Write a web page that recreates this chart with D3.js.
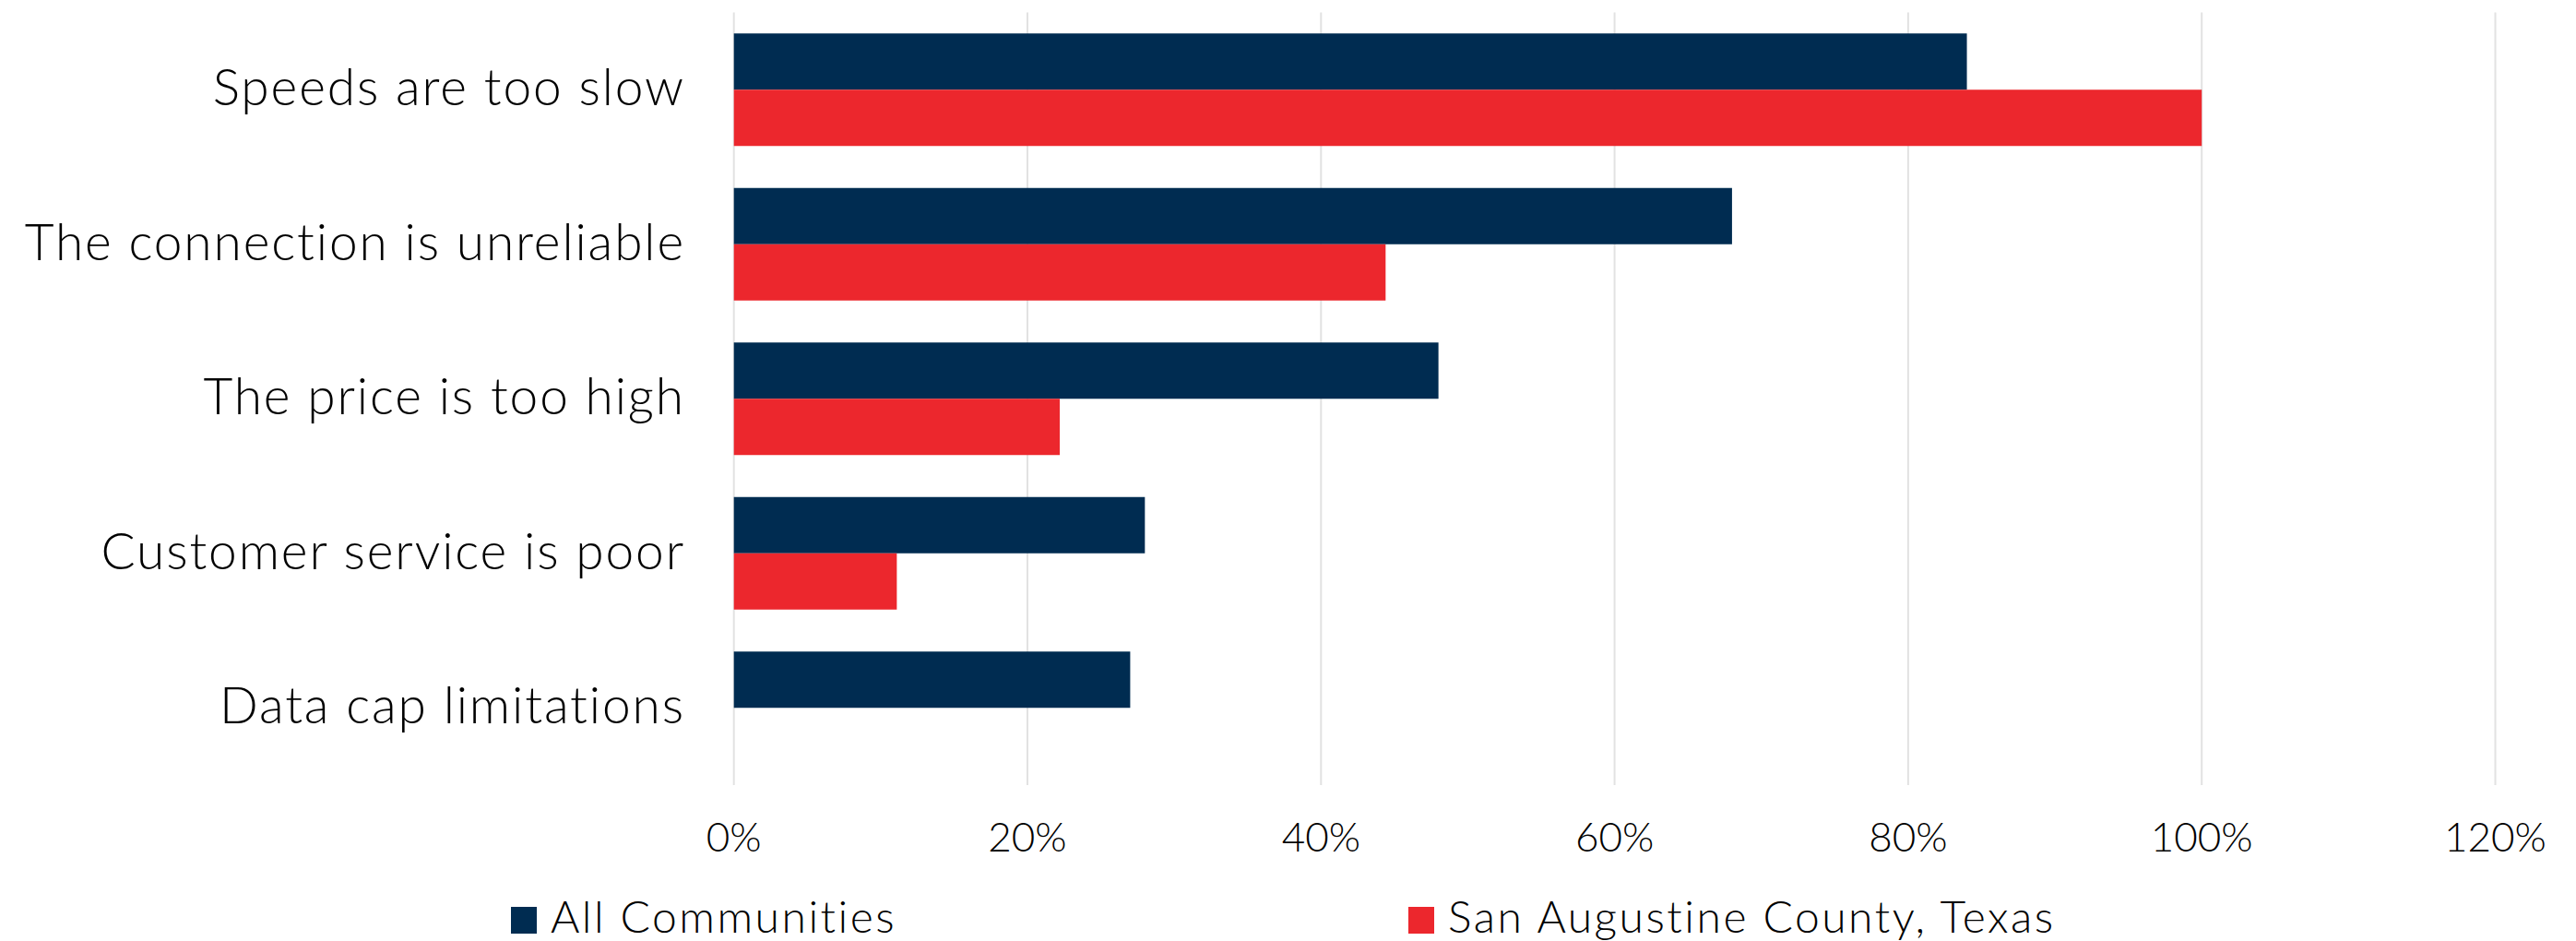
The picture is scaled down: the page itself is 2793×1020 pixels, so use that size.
<!DOCTYPE html>
<html><head><meta charset="utf-8">
<script src="https://cdn.jsdelivr.net/npm/d3@7"></script>
<style>
html,body{margin:0;padding:0;background:#fff;}
svg text{font-family:Lato,"Open Sans",sans-serif;font-weight:300;fill:#000;}
</style></head>
<body><svg id="c" width="2793" height="1020"></svg>
<script>
const categories = ["Speeds are too slow","The connection is unreliable","The price is too high","Customer service is poor","Data cap limitations"];
const seriesNames = ["All Communities","San Augustine County, Texas"];
const allCommunities = [0.84,0.68,0.48,0.28,0.27];
const sanAugustine = [1.0,0.444,0.222,0.111,0];
const tickValues = [0,0.2,0.4,0.6,0.8,1.0,1.2];
const colors = ["#002c51","#ec272d"];

const svg = d3.select("#c");
const x = d3.scaleLinear().domain([0,1.2]).range([795.7,2705.5]);
const y0 = d3.scaleBand().domain(categories).range([13.5,851]).padding(0);
const y1 = d3.scaleBand().domain(seriesNames).range([0,y0.bandwidth()]).paddingInner(0).paddingOuter(0.373);

// gridlines
svg.append("g").selectAll("line").data(tickValues).join("line")
  .attr("x1",d=>x(d)).attr("x2",d=>x(d))
  .attr("y1",13.5).attr("y2",851)
  .attr("stroke","#e2e2e2").attr("stroke-width",2);

const rows = categories.map((c,i)=>({cat:c, vals:[allCommunities[i],sanAugustine[i]]}));
const g = svg.append("g").selectAll("g").data(rows).join("g")
  .attr("transform",d=>`translate(0,${y0(d.cat)})`);
g.selectAll("rect").data(d=>d.vals.map((v,j)=>({v,s:seriesNames[j],j}))).join("rect")
  .attr("x",x(0)).attr("y",d=>y1(d.s))
  .attr("width",d=>x(d.v)-x(0)).attr("height",y1.bandwidth())
  .attr("fill",d=>colors[d.j]);

// category labels
svg.append("g").selectAll("text").data(categories).join("text")
  .attr("x",743).attr("y",d=>y0(d)+y0.bandwidth()/2+17)
  .attr("text-anchor","end").attr("font-size",55).attr("letter-spacing",1.9).text(d=>d);

// x tick labels
const fmt = d3.format(".0%");
svg.append("g").selectAll("text").data(tickValues).join("text")
  .attr("x",d=>x(d)).attr("y",923).attr("text-anchor","middle")
  .attr("font-size",44).text(d=>fmt(d));

// legend
const legX = [554,1527];
const leg = svg.append("g").selectAll("g").data(seriesNames).join("g")
  .attr("transform",(d,i)=>`translate(${legX[i]},0)`);
leg.append("rect").attr("x",0).attr("y",983).attr("width",28).attr("height",29)
  .attr("fill",(d,i)=>colors[i]);
leg.append("text").attr("x",43).attr("y",1011).attr("font-size",48).attr("letter-spacing",2.5).text(d=>d);
</script></body></html>
